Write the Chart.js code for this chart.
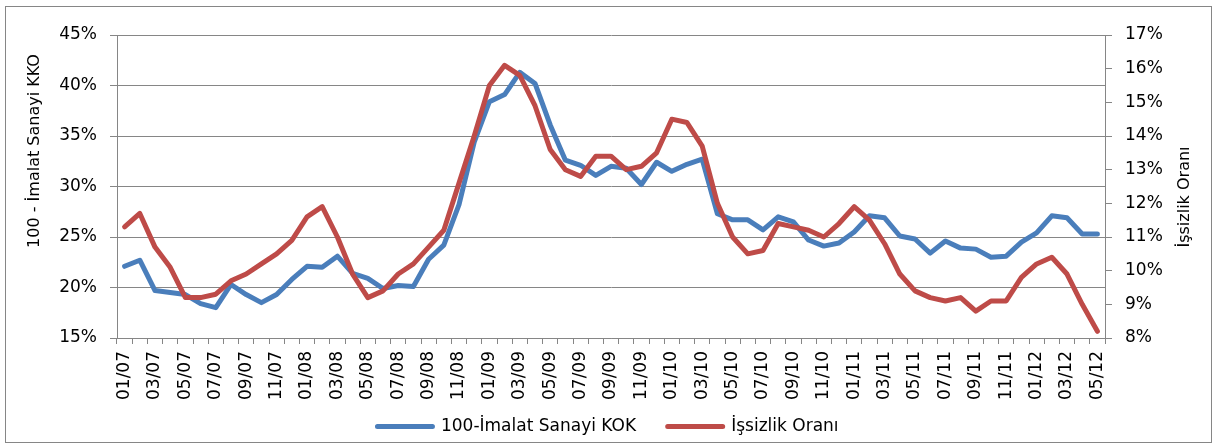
<!DOCTYPE html>
<html>
<head>
<meta charset="utf-8">
<script src="https://cdn.jsdelivr.net/npm/chart.js@4.4.1/dist/chart.umd.min.js"></script>
<style>
  html, body { margin: 0; padding: 0; background: #fff; }
</style>
</head>
<body>
<canvas id="mycanvas" width="1216" height="445"></canvas>
<script>
// month labels (mm/yy)
var months = [
  '01/07','02/07','03/07','04/07','05/07','06/07','07/07','08/07','09/07','10/07','11/07','12/07',
  '01/08','02/08','03/08','04/08','05/08','06/08','07/08','08/08','09/08','10/08','11/08','12/08',
  '01/09','02/09','03/09','04/09','05/09','06/09','07/09','08/09','09/09','10/09','11/09','12/09',
  '01/10','02/10','03/10','04/10','05/10','06/10','07/10','08/10','09/10','10/10','11/10','12/10',
  '01/11','02/11','03/11','04/11','05/11','06/11','07/11','08/11','09/11','10/11','11/11','12/11',
  '01/12','02/12','03/12','04/12','05/12'
];

// 100 - imalat sanayi KKO, % (left axis)
var kok = [
  22.1, 22.7, 19.7, 19.5, 19.3, 18.4, 18.0, 20.3, 19.3, 18.5, 19.3, 20.8,
  22.1, 22.0, 23.1, 21.4, 20.9, 19.9, 20.2, 20.1, 22.8, 24.2, 28.2, 34.4,
  38.4, 39.1, 41.3, 40.2, 36.1, 32.6, 32.1, 31.1, 32.0, 31.8, 30.2, 32.4,
  31.5, 32.2, 32.7, 27.3, 26.7, 26.7, 25.7, 27.0, 26.5, 24.7, 24.1, 24.4,
  25.5, 27.1, 26.9, 25.1, 24.8, 23.4, 24.6, 23.9, 23.8, 23.0, 23.1, 24.5,
  25.4, 27.1, 26.9, 25.3, 25.3
];

// issizlik orani, % (right axis)
var issizlik = [
  11.3, 11.7, 10.7, 10.1, 9.2, 9.2, 9.3, 9.7, 9.9, 10.2, 10.5, 10.9,
  11.6, 11.9, 11.0, 9.9, 9.2, 9.4, 9.9, 10.2, 10.7, 11.2, 12.6, 14.0,
  15.5, 16.1, 15.8, 14.9, 13.6, 13.0, 12.8, 13.4, 13.4, 13.0, 13.1, 13.5,
  14.5, 14.4, 13.7, 12.0, 11.0, 10.5, 10.6, 11.4, 11.3, 11.2, 11.0, 11.4,
  11.9, 11.5, 10.8, 9.9, 9.4, 9.2, 9.1, 9.2, 8.8, 9.1, 9.1, 9.8,
  10.2, 10.4, 9.9, 9.0, 8.2
];

var leftTitle = '100 - İmalat Sanayi KKO';
var rightTitle = 'İşsizlik Oranı';

var FONT = '"DejaVu Sans", "Liberation Sans", sans-serif';
var GRID = '#868686';

var frame = {
  id: 'frame',
  beforeDraw: function(chart) {
    var c = chart.ctx;
    c.save();
    c.fillStyle = '#fff';
    c.fillRect(0, 0, chart.width, chart.height);
    c.strokeStyle = GRID;
    c.lineWidth = 1;
    c.strokeRect(5.5, 6.5, 1206, 436);
    c.restore();
  },
  afterDraw: function(chart) {
    var c = chart.ctx;
    c.save();
    c.fillStyle = '#000';
    c.font = '16px ' + FONT;
    c.textAlign = 'center';
    c.textBaseline = 'middle';
    c.translate(35, 151);
    c.rotate(-Math.PI / 2);
    c.fillText(leftTitle, 0, 0);
    c.restore();
    c.save();
    c.fillStyle = '#000';
    c.font = '16px ' + FONT;
    c.textAlign = 'center';
    c.textBaseline = 'middle';
    c.translate(1185, 197);
    c.rotate(-Math.PI / 2);
    c.fillText(rightTitle, 0, 0);
    c.restore();
  }
};

var ctx = document.getElementById('mycanvas');

var chart = new Chart(ctx, {
  type: 'line',
  data: {
    labels: months,
    datasets: [
      {
        label: '100-İmalat Sanayi KOK    ',
        data: kok,
        yAxisID: 'y',
        borderColor: '#4A7EBB',
        backgroundColor: '#4A7EBB',
        borderWidth: 5,
        borderJoinStyle: 'round',
        borderCapStyle: 'round',
        pointRadius: 0,
        tension: 0,
        fill: false,
        order: 1
      },
      {
        label: 'İşsizlik Oranı',
        data: issizlik,
        yAxisID: 'y2',
        borderColor: '#BE4B48',
        backgroundColor: '#BE4B48',
        borderWidth: 5,
        borderJoinStyle: 'round',
        borderCapStyle: 'round',
        pointRadius: 0,
        tension: 0,
        fill: false,
        order: 0
      }
    ]
  },
  options: {
    responsive: false,
    animation: false,
    devicePixelRatio: 1,
    layout: { padding: { top: 35, left: 0, right: 0, bottom: 0 } },
    plugins: {
      legend: {
        position: 'bottom',
        labels: {
          font: { family: FONT, size: 17 },
          color: '#000',
          boxWidth: 55,
          boxHeight: 0,
          padding: 10,
          sort: function(a, b) { return a.datasetIndex - b.datasetIndex; }
        }
      },
      tooltip: { enabled: false }
    },
    scales: {
      x: {
        offset: true,
        afterFit: function(s) { s.height = 70; },
        grid: { display: true, drawOnChartArea: false, offset: true, color: GRID, tickLength: 6 },
        border: { color: GRID },
        ticks: {
          autoSkip: false,
          maxRotation: 90,
          minRotation: 90,
          padding: 7,
          color: '#000',
          font: { family: FONT, size: 17 },
          callback: function(v, i) { return i % 2 === 0 ? months[i] : ''; }
        }
      },
      y: {
        position: 'left',
        min: 15,
        max: 45,
        afterFit: function(s) { s.width = 117; },
        grid: { color: GRID, tickLength: 7 },
        border: { color: GRID },
        ticks: {
          stepSize: 5,
          padding: 13,
          color: '#000',
          font: { family: FONT, size: 17 },
          callback: function(v) { return v + '%'; }
        }
      },
      y2: {
        position: 'right',
        min: 8,
        max: 17,
        afterFit: function(s) { s.width = 111; },
        grid: { drawOnChartArea: false, color: GRID, tickLength: 7 },
        border: { color: GRID },
        ticks: {
          stepSize: 1,
          padding: 13,
          color: '#000',
          font: { family: FONT, size: 17 },
          callback: function(v) { return v + '%'; }
        }
      }
    }
  },
  plugins: [frame]
});
</script>
</body>
</html>
